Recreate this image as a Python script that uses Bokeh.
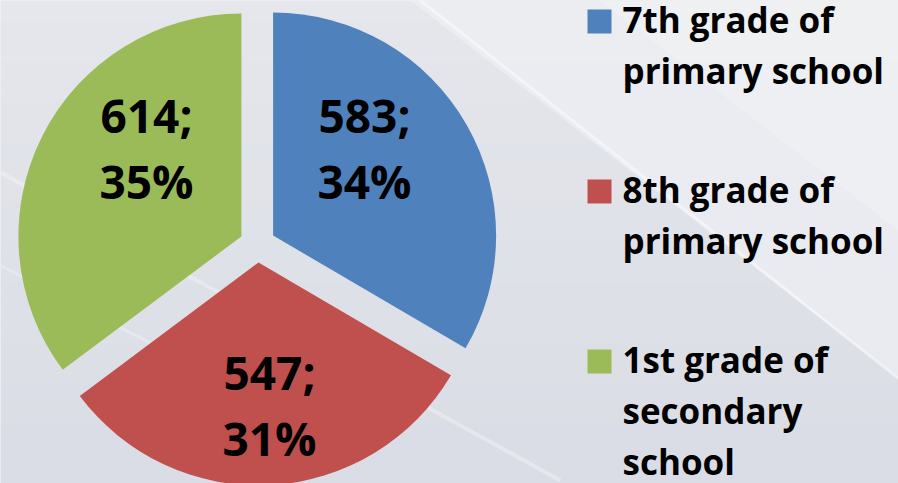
import numpy as np
from bokeh.plotting import figure
from bokeh.models import Range1d, ColumnDataSource
from bokeh.core.properties import value
from bokeh.embed import file_html
from bokeh.resources import INLINE

# ---- data ----
categories = ["7th grade of primary school", "8th grade of primary school", "1st grade of secondary school"]
counts = [583, 547, 614]
pct_labels = ["34%", "31%", "35%"]
legend_lines = [["7th grade of", "primary school"],
                ["8th grade of", "primary school"],
                ["1st grade of", "secondary", "school"]]
colors = ["#4f81bd", "#c0504d", "#9bbb59"]

# ---- layout constants (screen px, y down) ----
W, H = 898, 483
CX, CY = 257.0, 244.0
R = 223.0
EXPLODE = 18.0
label_pos = [(364, 133), (269, 390), (146, 133)]   # centre x, first baseline (screen)
LABEL_LINE = 66
LEG_X_SQ, LEG_X_TXT = 587, 622
LEG_Y0, LEG_STEP, LEG_LINE = 33, 170, 51
FONT = "Open Sans"
BASE_FIX_BIG = 19
BASE_FIX_LEG = 14

def sy(y):
    return H - y

p = figure(width=W, height=H, x_range=Range1d(0, W), y_range=Range1d(0, H),
           x_axis_location=None, y_axis_location=None, toolbar_location=None,
           output_backend="svg", min_border=0)
p.grid.visible = False
p.outline_line_color = None
p.background_fill_color = "#e1e3ea"
p.border_fill_color = "#e1e3ea"

# ---- background gradient (style only) ----
n = 24
top = np.array([0xe5, 0xe7, 0xec]); bot = np.array([0xdb, 0xdd, 0xe6])
for i in range(n):
    t = i / (n - 1)
    c = (top * (1 - t) + bot * t).astype(int)
    y0 = H - i * H / n
    p.quad(left=0, right=W, top=y0, bottom=y0 - H / n - 1,
           fill_color="#%02x%02x%02x" % tuple(c), line_color=None)
p.patch(x=[410, W, W], y=[sy(0), sy(0), sy(378)], fill_color="#eef0f3", fill_alpha=0.7, line_color=None)
p.patch(x=[600, W, W], y=[sy(0), sy(0), sy(230)], fill_color="#f3f4f6", fill_alpha=0.4, line_color=None)
p.line(x=[420, W], y=[sy(0), sy(378)], line_color="white", line_width=3, line_alpha=0.45)
p.line(x=[0, 560], y=[sy(172), sy(480)], line_color="white", line_width=4, line_alpha=0.3)
p.line(x=[0, 300], y=[sy(265), sy(420)], line_color="white", line_width=3, line_alpha=0.25)

# ---- pie ----
total = float(sum(counts))
fr = np.array(counts) / total
a_end = np.cumsum(fr) * 2 * np.pi
a_start = a_end - fr * 2 * np.pi
mid = (a_start + a_end) / 2
xs = CX + EXPLODE * np.sin(mid)
ys = sy(CY) + EXPLODE * np.cos(mid)
src = ColumnDataSource(dict(x=xs, y=ys, start=np.pi / 2 - a_start, end=np.pi / 2 - a_end,
                            color=colors, name=categories))
p.wedge(x="x", y="y", radius=R, start_angle="start", end_angle="end", direction="clock",
        fill_color="color", line_color=None, source=src)

# ---- data labels ----
lx = [lp[0] for lp in label_pos]
p.text(x=lx, y=[sy(lp[1] - BASE_FIX_BIG) for lp in label_pos], text=["%d;" % c for c in counts],
       text_font=value(FONT), text_font_style="bold", text_font_size="46px",
       text_align="center", text_baseline="alphabetic", text_color="black")
p.text(x=lx, y=[sy(lp[1] + LABEL_LINE - BASE_FIX_BIG) for lp in label_pos], text=pct_labels,
       text_font=value(FONT), text_font_style="bold", text_font_size="46px",
       text_align="center", text_baseline="alphabetic", text_color="black")

# ---- legend ----
sq_y = [sy(LEG_Y0 + i * LEG_STEP - 12) for i in range(len(categories))]
p.rect(x=[LEG_X_SQ + 12] * len(categories), y=sq_y, width=24, height=24,
       fill_color=colors, line_color=None)
tx, ty, tt = [], [], []
for i, lines in enumerate(legend_lines):
    for j, s in enumerate(lines):
        tx.append(LEG_X_TXT)
        ty.append(sy(LEG_Y0 + i * LEG_STEP + j * LEG_LINE - BASE_FIX_LEG))
        tt.append(s)
p.text(x=tx, y=ty, text=tt, text_font=value(FONT), text_font_style="bold",
       text_font_size="35px", text_align="left", text_baseline="alphabetic", text_color="black")

open("out.html", "w").write(file_html(p, INLINE))
